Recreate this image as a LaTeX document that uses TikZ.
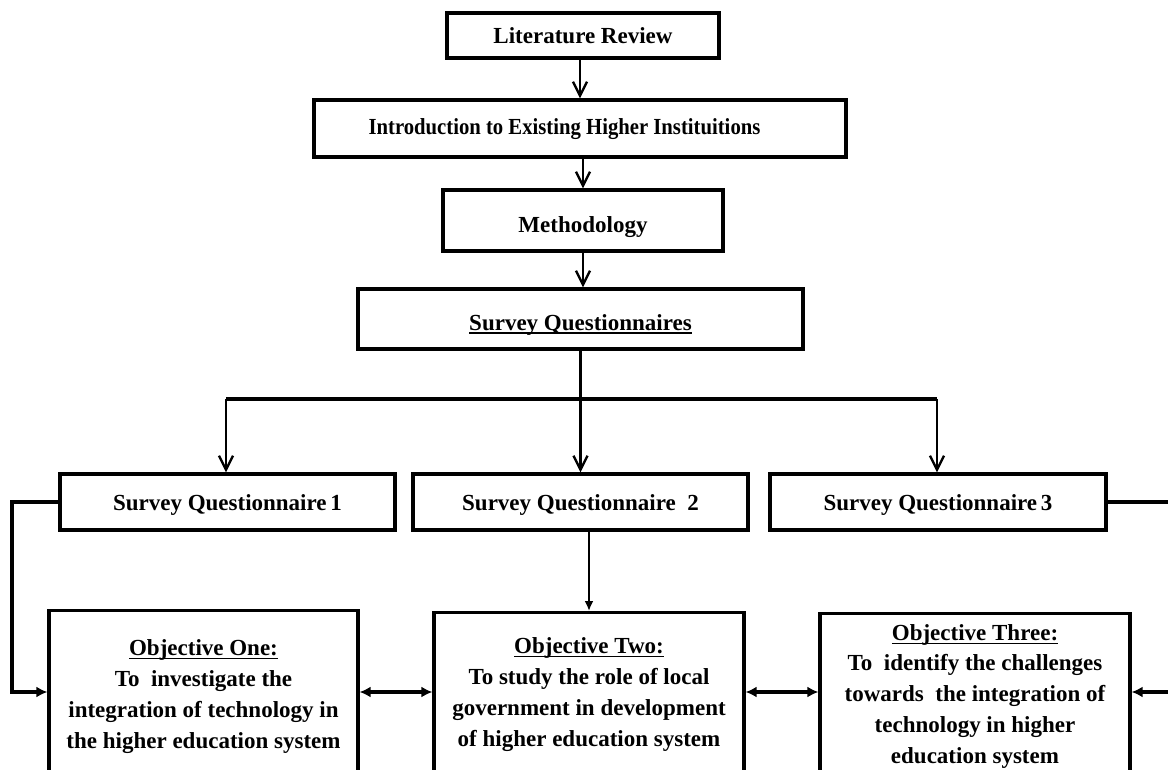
\documentclass[tikz,border=0pt]{standalone}
\usepackage{fontspec}
\setmainfont{Liberation Serif}
\newfontfamily\narrowserif{Liberation Serif}[FakeStretch=0.9]
\usetikzlibrary{arrows.meta}
\newcommand\myul[1]{\setbox0\hbox{#1}\rlap{\rule[-4pt]{\wd0}{1.6pt}}\box0}
\begin{document}
\begin{tikzpicture}[x=1pt,y=-1pt,
  box/.style={draw, line width=3.2pt, inner sep=0pt, text depth=0pt,
    font=\bfseries\fontsize{23}{31}\selectfont},
  objbox/.style={draw, line width=3.2pt, inner sep=0pt, anchor=north,
    minimum height=220pt},
  objtext/.style={inner sep=0pt, anchor=north, align=center,
    font=\bfseries\fontsize{23}{31}\selectfont},
  objtextb/.style={inner sep=0pt, anchor=north, align=center,
    font=\bfseries\fontsize{23}{30.75}\selectfont},
  arr/.style={line width=2.4pt, -{Straight Barb[length=14pt,width=14pt]}},
  bar/.style={line width=4pt},
  conn/.style={line width=3.2pt, -{Latex[length=11pt,width=11pt]}},
  dbl/.style={line width=3.2pt, {Latex[length=11pt,width=11pt]}-{Latex[length=11pt,width=11pt]}},
  thin/.style={line width=2.2pt, -{Latex[length=10pt,width=9pt]}}
]
\useasboundingbox (0,0) rectangle (1168,769);
\clip (0,0) rectangle (1168,769);

% top chain
\node[box, minimum width=272pt, minimum height=45pt, text height=15pt] (lit) at (583,35.5) {Literature Review};
\node[box, minimum width=532pt, minimum height=57pt, text height=11pt] (intro) at (580,128.5)
  {{\narrowserif Introduction to Existing Higher Instituitions}\hspace*{31pt}};
\node[box, minimum width=280pt, minimum height=61pt, text height=23pt] (meth) at (583,220.5) {Methodology};
\node[box, minimum width=445pt, minimum height=60pt, text height=22pt] (sqs) at (580.5,319) {\myul{Survey Questionnaires}};

% survey questionnaire row
\node[box, minimum width=335pt, minimum height=56pt, text height=16pt] (sq1) at (227.5,502) {Survey Questionnaire\,1};
\node[box, minimum width=335pt, minimum height=56pt, text height=16pt] (sq2) at (580.5,502) {Survey Questionnaire\ \ 2};
\node[box, minimum width=336pt, minimum height=56pt, text height=16pt] (sq3) at (938,502) {Survey Questionnaire\,3};

% objective boxes
\node[objbox, minimum width=309pt] (o1) at (203.5,609) {};
\node[objbox, minimum width=310pt] (o2) at (589,611) {};
\node[objbox, minimum width=310pt] (o3) at (975,612) {};

\node[objtext] (o1t) at (203.5,639) {\myul{Objective One:}\\To\ \ investigate the\\integration of technology in\\the higher education system};
\node[objtext] (o2t) at (589,637) {\myul{Objective Two:}\\To study the role of local\\government in development\\of higher education system};
\node[objtextb] (o3t) at (975,624) {\myul{Objective Three:}\\To\ \ identify the challenges\\towards\ \ the integration of\\technology in higher\\education system};

% connectors top chain
\draw[arr] (intro.north |- lit.south) -- (intro.north);
\draw[arr] (meth.north |- intro.south) -- (meth.north);
\draw[arr] (meth.south) -- (meth.south |- sqs.north);

% distribution bar
\coordinate (bl) at (226,399);
\coordinate (br) at (937,399);
\draw[bar] (bl) -- (br);
\draw[arr] (sqs.south) -- (sq2.north);
\draw[arr] (bl) -- (bl |- sq1.north);
\draw[arr] (br) -- (br |- sq3.north);

% lower connectors
\coordinate (midrow) at (0,692);
\coordinate (lc) at (12,502);
\coordinate (rc) at (1185,502);
\draw[thin] (o2.north |- sq2.south) -- (o2.north);
\draw[conn] (sq1.west) -- (lc) |- (o1.west |- midrow);
\draw[conn] (sq3.east) -- (rc) |- (o3.east |- midrow);
\draw[dbl] (o1.east |- midrow) -- (o2.west |- midrow);
\draw[dbl] (o2.east |- midrow) -- (o3.west |- midrow);
\end{tikzpicture}
\end{document}
